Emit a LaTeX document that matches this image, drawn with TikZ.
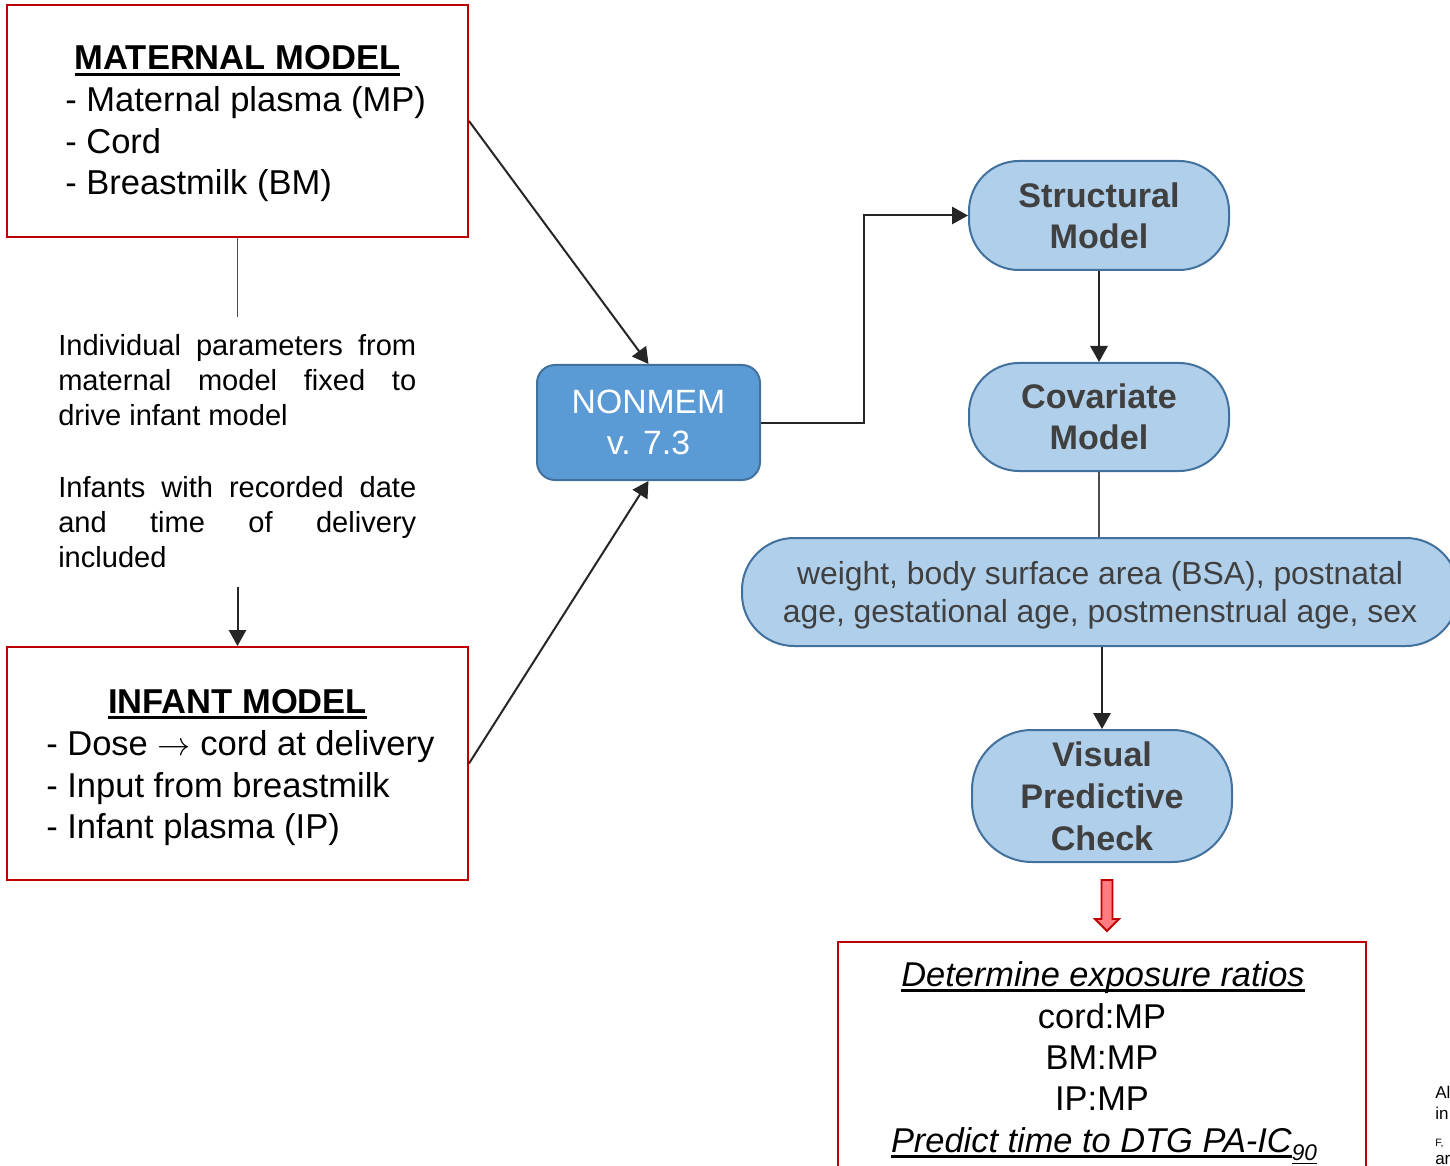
\documentclass[tikz,border=0pt]{standalone}
\usepackage{fontspec}
\setmainfont{Liberation Sans}
\usetikzlibrary{arrows.meta}

\definecolor{boxred}{HTML}{C00000}
\definecolor{paleblue}{HTML}{B0CFEB}
\definecolor{edgeblue}{HTML}{41719C}
\definecolor{nmblue}{HTML}{5B9BD5}
\definecolor{darktext}{HTML}{404040}
\definecolor{linkgray}{HTML}{262626}
\definecolor{pinkfill}{HTML}{FF7C80}

% underline at a fixed depth below the baseline
\newsavebox\ulbox
\newcommand\ulx[1]{\sbox\ulbox{#1}\rlap{\vrule height -0.1em depth 0.17em width \wd\ulbox}\usebox\ulbox}
\newcommand\fsz[2]{\fontsize{#1}{#2}\selectfont}

\begin{document}
\begin{tikzpicture}[x=0.75pt,y=-0.75pt,
  boxsize/.style 2 args={minimum width=#1*0.75pt, minimum height=#2*0.75pt},
  redbox/.style={draw=boxred, line width=1.5pt, fill=white, inner sep=0pt},
  stadium/.style={draw=edgeblue, fill=paleblue, line width=1.5pt, text=darktext,
    align=center, inner sep=0pt},
  txt/.style={inner sep=0pt, text=black},
  listtext/.style={txt, font=\fsz{25.9}{30.75}},
  titletext/.style={txt, font=\fsz{25.9}{30.75}\bfseries},
  smalltext/.style={txt, font=\fsz{21.8}{26.25}},
  restext/.style={txt, font=\fsz{25.8}{30.75}},
  fragtext/.style={txt, font=\fsz{12.75}{15}},
  arr/.style={draw=linkgray, line width=1.5pt, -{Triangle[length=12pt, width=13pt]}},
  thinline/.style={draw=black!70, line width=0.8pt}
]
\clip (0,0) rectangle (1450,1166);
\fill[white] (0,0) rectangle (1450,1166);

% ---- maternal model ----
\node[redbox, boxsize={461}{232}] (mat) at (237.5,121) {};
\node[titletext, anchor=base] (matT) at (237.5,70) {\ulx{MATERNAL MODEL}};
\node[listtext, anchor=base west] (mat1) at (65,112) {- Maternal plasma (MP)};
\node[listtext, anchor=base west] (mat2) at (65,154) {- Cord};
\node[listtext, anchor=base west] (mat3) at (65,195) {- Breastmilk (BM)};

% ---- notes between the two models ----
\node[smalltext, anchor=base west] (n1) at (58,356) {\makebox[268.5pt][s]{Individual parameters from}};
\node[smalltext, anchor=base west] (n2) at (58,391) {\makebox[268.5pt][s]{maternal model fixed to}};
\node[smalltext, anchor=base west] (n3) at (58,426) {drive infant model};
\node[smalltext, anchor=base west] (n4) at (58,497) {\makebox[268.5pt][s]{Infants with recorded date}};
\node[smalltext, anchor=base west] (n5) at (58,532) {\makebox[268.5pt][s]{and time of delivery}};
\node[smalltext, anchor=base west] (n6) at (58,567) {included};

% ---- infant model ----
\node[redbox, boxsize={461}{233}] (inf) at (237.5,763.5) {};
\node[titletext, anchor=base] (infT) at (237.5,713) {\ulx{INFANT MODEL}};
\node[listtext, anchor=base west] (inf1) at (46,755) {- Dose {\fsz{28}{30}$\rightarrow$} cord at delivery};
\node[listtext, anchor=base west] (inf2) at (46,797) {- Input from breastmilk};
\node[listtext, anchor=base west] (inf3) at (46,838) {- Infant plasma (IP)};

% ---- NONMEM ----
\node[draw=edgeblue, fill=nmblue, line width=1.5pt, rounded corners=13.5pt,
  boxsize={223}{115}, inner sep=0pt, text=white, align=center,
  font=\fsz{25.3}{30.75}] (nm) at (648.5,422.5) {NONMEM\\v. 7.3};

% ---- model building chain ----
\node[stadium, boxsize={260}{109}, rounded corners=37.5pt,
  font=\fsz{25.6}{31}\bfseries] (str) at (1099,215.5) {Structural\\Model};
\node[stadium, boxsize={260}{108}, rounded corners=37.5pt,
  font=\fsz{25.6}{31}\bfseries] (cov) at (1099,417) {Covariate\\Model};
\node[stadium, boxsize={716}{108}, rounded corners=39pt, text depth=0pt,
  font=\fsz{23.9}{28.5}] (covl) at (1100,592)
  {weight, body surface area (BSA), postnatal\\age, gestational age, postmenstrual age, sex};
\node[stadium, boxsize={260}{132}, rounded corners=45pt,
  font=\fsz{25.6}{31.5}\bfseries] (vpc) at (1102,796) {Visual\\Predictive\\Check};

% ---- results ----
\node[redbox, boxsize={528}{260}] (res) at (1102,1072) {};
\node[restext, anchor=base] (r1) at (1103,986) {\itshape\ulx{Determine exposure ratios}};
\node[restext, anchor=base] (r2) at (1102,1028) {cord:MP};
\node[restext, anchor=base] (r3) at (1102,1069) {BM:MP};
\node[restext, anchor=base] (r4) at (1102,1110) {IP:MP};
\node[restext, anchor=base] (r5) at (1104,1152)
  {\itshape\ulx{Predict time to DTG PA-IC}\raisebox{-0.25em}{\fsz{17}{20}\ulx{90}}};

% block arrow towards the results
\draw[draw=boxred, fill=pinkfill, line width=1.4pt, line join=miter]
  (1101.5,880) -- (1112.5,880) -- (1112.5,919) -- (1119,919) -- (1107,931)
  -- (1095,919) -- (1101.5,919) -- cycle;

% ---- connectors ----
\coordinate (matfoot) at (237.5,317);
\coordinate (inftop) at (237.5,587);
\coordinate (bend) at (864,422.5);
\draw[thinline] (mat.south) -- (matfoot);
\draw[arr] (inftop) -- (inf.north);
\draw[arr] (mat.east) -- (nm.north);
\draw[arr] (inf.east) -- (nm.south);
\draw[arr] (nm.east) -- (bend) |- (str.west);
\draw[arr] (str.south) -- (cov.north);
\draw[thinline] (cov.south) -- (cov.south |- covl.north);
\draw[arr] (vpc.north |- covl.south) -- (vpc.north);

% ---- text running in from the right edge ----
\node[fragtext, anchor=base west] (f1) at (1435,1098) {Al};
\node[fragtext, anchor=base west] (f2) at (1435,1119) {in};
\node[fragtext, anchor=base west, font=\fsz{8}{10}] (f3) at (1435,1146) {F,};
\node[fragtext, anchor=base west] (f4) at (1435,1164) {ar};
\end{tikzpicture}
\end{document}
